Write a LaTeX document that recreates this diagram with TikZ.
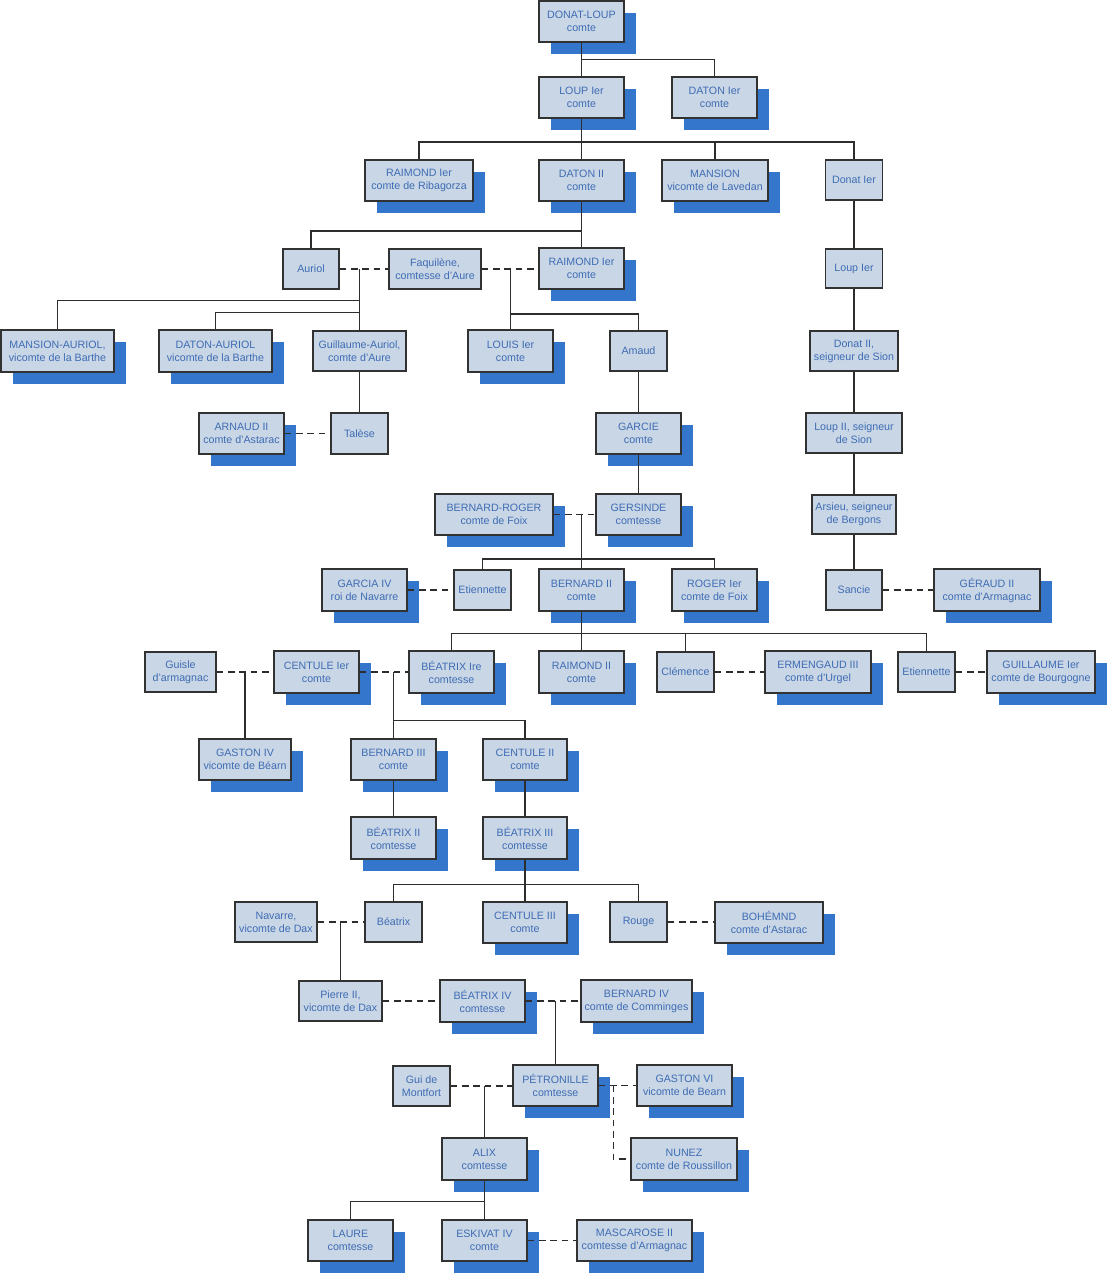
\documentclass[tikz,border=0pt]{standalone}
\usepackage{fontspec}
\setmainfont{Liberation Sans}
\definecolor{boxfill}{RGB}{201,214,229}
\definecolor{shadowblue}{RGB}{51,118,204}
\definecolor{txtblue}{RGB}{62,108,180}
\definecolor{boxline}{RGB}{50,50,50}
\definecolor{conn}{RGB}{45,45,45}
\tikzset{
  box/.style={draw=boxline, fill=boxfill, line width=1.1pt, inner sep=0pt, align=center, text=txtblue, font=\fontsize{8}{9.75}\selectfont},
  link/.style={draw=conn, line width=0.8pt},
  marriage/.style={link, dash pattern=on 5pt off 3.5pt},
}
\newcommand\plainbox[6]{\node[box, minimum width={(#4-#2)*0.75pt}, minimum height={(#5-#3)*0.75pt}] (#1) at ({(#2+#4)/2},{(#3+#5)/2}) {#6};}
\newcommand\shadbox[6]{\fill[shadowblue] ({#2+12},{#3+12}) rectangle ({#4+12},{#5+12});\plainbox{#1}{#2}{#3}{#4}{#5}{#6}}
\begin{document}
\begin{tikzpicture}[x=0.75pt,y=-0.75pt]
\useasboundingbox (0,0) rectangle (1108,1274);
% ---- boxes ----
\shadbox{dl}{539}{1}{624}{42}{DONAT-LOUP\\comte}
\shadbox{loup1}{539}{77}{624}{118}{LOUP Ier\\comte}
\shadbox{daton1}{672}{77}{757}{118}{DATON Ier\\comte}
\shadbox{raim1}{365}{160}{473}{201}{RAIMOND Ier\\comte de Ribagorza}
\shadbox{daton2}{539}{160}{624}{201}{DATON II\\comte}
\shadbox{mansion}{662}{160}{768}{201}{MANSION\\vicomte de Lavedan}
\plainbox{donat1}{825.5}{160}{882.5}{200}{Donat Ier}
\plainbox{auriol}{283}{249}{339}{289}{Auriol}
\plainbox{faq}{389}{249}{481}{289}{Faquilène,\\comtesse d’Aure}
\shadbox{raim1b}{539}{248}{624}{289}{RAIMOND Ier\\comte}
\plainbox{loupA}{825.5}{249}{882.5}{288}{Loup Ier}
\shadbox{mansa}{1}{330}{114}{372}{MANSION-AURIOL,\\vicomte de la Barthe}
\shadbox{datona}{159}{330}{272}{372}{DATON-AURIOL\\vicomte de la Barthe}
\plainbox{guil}{313}{331}{406}{371}{Guillaume-Auriol,\\comte d’Aure}
\shadbox{louis}{468}{330}{553}{372}{LOUIS Ier\\comte}
\plainbox{amaud}{610}{331}{667}{371}{Amaud}
\plainbox{donat2}{810}{331}{898}{371}{Donat II,\\seigneur de Sion}
\shadbox{arnaud}{199}{413}{284}{454}{ARNAUD II\\comte d’Astarac}
\plainbox{talese}{331}{413}{388}{454}{Talèse}
\shadbox{garcie}{596}{413}{681}{454}{GARCIE\\comte}
\plainbox{loup2}{806}{413}{902}{453}{Loup II, seigneur\\de Sion}
\shadbox{bernr}{435}{494}{553}{535}{BERNARD-ROGER\\comte de Foix}
\shadbox{gers}{596}{494}{681}{535}{GERSINDE\\comtesse}
\plainbox{arsieu}{812}{495}{896}{534}{Arsieu, seigneur\\de Bergons}
\shadbox{garcia}{322}{569}{407}{611}{GARCIA IV\\roi de Navarre}
\plainbox{etien1}{454}{570}{511}{610}{Etiennette}
\shadbox{bern2}{539}{569}{624}{611}{BERNARD II\\comte}
\shadbox{roger}{672}{569}{757}{611}{ROGER Ier\\comte de Foix}
\plainbox{sancie}{826}{570}{882}{610}{Sancie}
\shadbox{geraud}{934}{569}{1040}{611}{GÉRAUD II\\comte d’Armagnac}
\plainbox{guisle}{145}{652}{216}{692}{Guisle\\d’armagnac}
\shadbox{cent1}{274}{651}{359}{693}{CENTULE Ier\\comte}
\shadbox{beat1}{409}{651}{494}{693}{BÉATRIX Ire\\comtesse}
\shadbox{raim2}{539}{651}{624}{693}{RAIMOND II\\comte}
\plainbox{clem}{657}{652}{714}{692}{Clémence}
\shadbox{ermen}{765}{651}{871}{693}{ERMENGAUD III\\comte d’Urgel}
\plainbox{etien2}{898}{652}{955}{692}{Etiennette}
\shadbox{guill}{987}{651}{1095}{693}{GUILLAUME Ier\\comte de Bourgogne}
\shadbox{gaston4}{199}{739}{291}{780}{GASTON IV\\vicomte de Béarn}
\shadbox{bern3}{351}{739}{436}{780}{BERNARD III\\comte}
\shadbox{cent2}{483}{739}{567}{780}{CENTULE II\\comte}
\shadbox{beat2}{351}{817}{436}{859}{BÉATRIX II\\comtesse}
\shadbox{beat3}{483}{817}{567}{859}{BÉATRIX III\\comtesse}
\plainbox{navarre}{235}{902}{317}{942}{Navarre,\\vicomte de Dax}
\plainbox{beatrix}{365}{902}{422}{942}{Béatrix}
\shadbox{cent3}{483}{902}{567}{943}{CENTULE III\\comte}
\plainbox{rouge}{610}{902}{667}{942}{Rouge}
\shadbox{bohem}{715}{902}{823}{943}{BOHÉMND\\comte d’Astarac}
\plainbox{pierre}{299}{981}{382}{1021}{Pierre II,\\vicomte de Dax}
\shadbox{beat4}{440}{980}{525}{1022}{BÉATRIX IV\\comtesse}
\shadbox{bern4}{581}{980}{692}{1022}{BERNARD IV\\comte de Comminges}
\plainbox{gui}{393}{1066}{450}{1106}{Gui de\\Montfort}
\shadbox{petr}{513}{1065}{598}{1106}{PÉTRONILLE\\comtesse}
\shadbox{gaston6}{637}{1065}{732}{1106}{GASTON VI\\vicomte de Bearn}
\shadbox{alix}{442}{1138}{527}{1180}{ALIX\\comtesse}
\shadbox{nunez}{631}{1138}{737}{1180}{NUNEZ\\comte de Roussillon}
\shadbox{laure}{308}{1220}{393}{1261}{LAURE\\comtesse}
\shadbox{eskivat}{442}{1220}{527}{1261}{ESKIVAT IV\\comte}
\shadbox{masc}{577}{1220}{692}{1261}{MASCAROSE II\\comtesse d’Armagnac}
% ---- junctions ----
\coordinate (j1) at (581.5,142);
\coordinate (j2) at (581.5,231);
\coordinate (j3) at (581.5,559);
\coordinate (j4) at (581.5,633.5);
\coordinate (j5) at (525,884.5);
\coordinate (j6) at (484.5,1201.5);
\coordinate (m1) at (auriol.east -| guil.north);
\coordinate (m2) at (faq.east -| louis.north);
\coordinate (m3) at (bernr.east -| bern2.north);
\coordinate (m4) at (guisle.east -| gaston4.north);
\coordinate (m5) at (cent1.east -| bern3.north);
\coordinate (m6) at (navarre.east -| pierre.north);
\coordinate (m7) at (beat4.east -| petr.north);
\coordinate (m8) at (gui.east -| alix.north);
% ---- descent lines ----
\draw[link] (dl.south) -- (loup1.north);
\draw[link] (dl.south) ++(0,17) -| (daton1.north);
\draw[link] (loup1.south) -- (daton2.north);
\draw[link] (raim1.north) |- (j1) -| (donat1.north);
\draw[link] (j1) -| (mansion.north);
\draw[link] (daton2.south) -- (raim1b.north);
\draw[link] (j2) -| (auriol.north);
\draw[link] (m1) -- (guil.north);
\draw[link] (m1) ++(0,31.5) -| (mansa.north);
\draw[link] (m1) ++(0,43.5) -| (datona.north);
\draw[link] (m2) -- (louis.north);
\draw[link] (m2) ++(0,45) -| (amaud.north);
\draw[link] (amaud.south) -- (garcie.north);
\draw[link] (guil.south) -- (talese.north);
\draw[link] (garcie.south) -- (gers.north);
\draw[link] (m3) -- (bern2.north);
\draw[link] (etien1.north) |- (j3) -| (roger.north);
\draw[link] (bern2.south) -- (raim2.north);
\draw[link] (beat1.north) |- (j4) -| (etien2.north);
\draw[link] (j4) -| (clem.north);
\draw[link] (m4) -- (gaston4.north);
\draw[link] (m5) -- (bern3.north);
\draw[link] (m5) ++(0,48.5) -| (cent2.north);
\draw[link] (bern3.south) -- (beat2.north);
\draw[link] (cent2.south) -- (beat3.north);
\draw[link] (beat3.south) -- (cent3.north);
\draw[link] (beatrix.north) |- (j5) -| (rouge.north);
\draw[link] (m6) -- (pierre.north);
\draw[link] (m7) -- (petr.north);
\draw[link] (m8) -- (alix.north);
\draw[link] (alix.south) -- (eskivat.north);
\draw[link] (laure.north) |- (j6);
\draw[link] (donat1.south) -- (loupA.north);
\draw[link] (loupA.south) -- (donat2.north);
\draw[link] (donat2.south) -- (loup2.north);
\draw[link] (loup2.south) -- (arsieu.north);
\draw[link] (arsieu.south) -- (sancie.north);
% ---- marriages ----
\draw[marriage] (auriol.east) -- (auriol.east -| faq.west);
\draw[marriage] (faq.east) -- (faq.east -| raim1b.west);
\draw[marriage] (arnaud.east) -- (arnaud.east -| talese.west);
\draw[marriage] (bernr.east) -- (bernr.east -| gers.west);
\draw[marriage] (garcia.east) -- (garcia.east -| etien1.west);
\draw[marriage] (sancie.east) -- (sancie.east -| geraud.west);
\draw[marriage] (guisle.east) -- (guisle.east -| cent1.west);
\draw[marriage] (cent1.east) -- (cent1.east -| beat1.west);
\draw[marriage] (clem.east) -- (clem.east -| ermen.west);
\draw[marriage] (etien2.east) -- (etien2.east -| guill.west);
\draw[marriage] (navarre.east) -- (navarre.east -| beatrix.west);
\draw[marriage] (rouge.east) -- (rouge.east -| bohem.west);
\draw[marriage] (pierre.east) -- (pierre.east -| beat4.west);
\draw[marriage] (beat4.east) -- (beat4.east -| bern4.west);
\draw[marriage] (gui.east) -- (gui.east -| petr.west);
\draw[marriage] (petr.east) -- (petr.east -| gaston6.west);
\draw[marriage] (petr.east) ++(14.5,0) |- (nunez.west);
\draw[marriage] (eskivat.east) -- (eskivat.east -| masc.west);
\end{tikzpicture}
\end{document}
